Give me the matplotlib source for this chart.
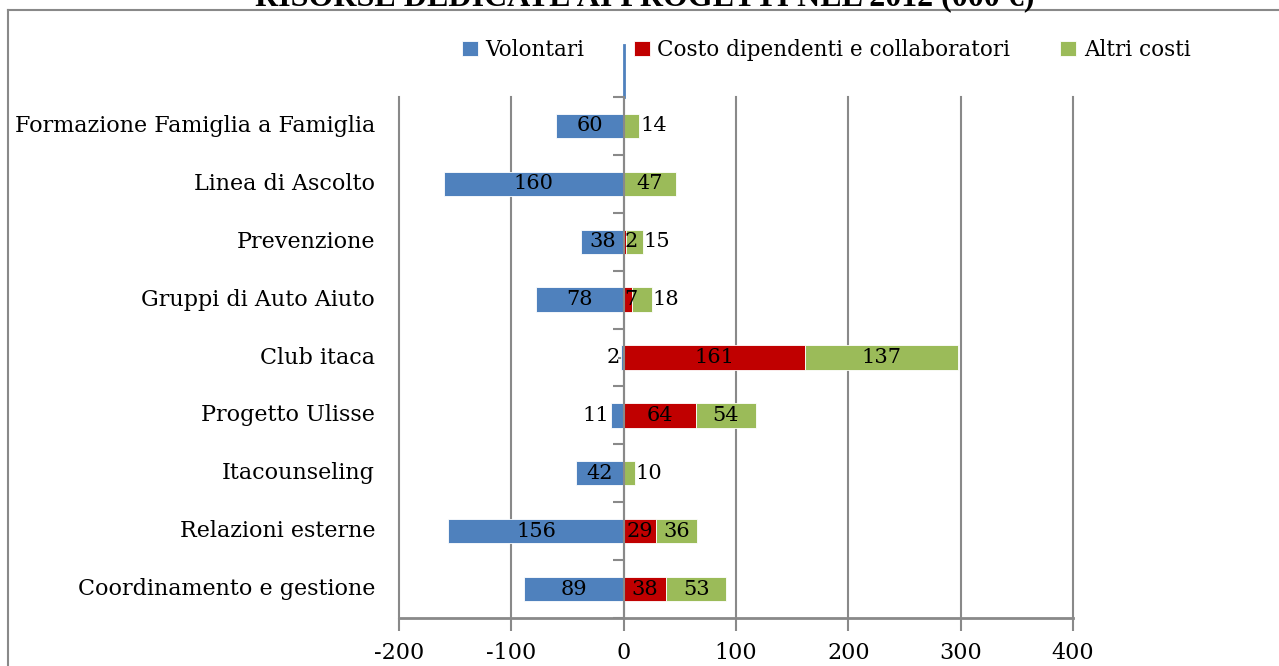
import matplotlib.pyplot as plt
from matplotlib.lines import Line2D
from matplotlib.transforms import blended_transform_factory
import numpy as np

categorie = ['Formazione Famiglia a Famiglia', 'Linea di Ascolto', 'Prevenzione',
             'Gruppi di Auto Aiuto', 'Club itaca', 'Progetto Ulisse',
             'Itacounseling', 'Relazioni esterne', 'Coordinamento e gestione']
volontari = [60, 160, 38, 78, 2, 11, 42, 156, 89]
dipendenti = [0, 0, 2, 7, 161, 64, 0, 29, 38]
altri = [14, 47, 15, 18, 137, 54, 10, 36, 53]
serie = ['Volontari', 'Costo dipendenti e collaboratori', 'Altri costi']
tick_x = [-200, -100, 0, 100, 200, 300, 400]

col_v = '#4F81BD'
col_d = '#C00000'
col_a = '#9BBB59'
grigio = '#898989'
font = 'DejaVu Serif'

plt.rcParams['font.family'] = font

fig = plt.figure(figsize=(12.79, 6.66), dpi=100)
ax = fig.add_axes([399/1279, 1 - 618/666, 674/1279, 521/666])

n = len(categorie)
y = np.arange(n)[::-1]  # prima categoria in alto
h = 0.42

v = -np.array(volontari)
d = np.array(dipendenti)
a = np.array(altri)

ax.barh(y, v, height=h, color=col_v, edgecolor='white', linewidth=0.6, label=serie[0], zorder=3)
ax.barh(y, d, height=h, color=col_d, edgecolor='white', linewidth=0.6, label=serie[1], zorder=3)
ax.barh(y, a, left=d, height=h, color=col_a, edgecolor='white', linewidth=0.6, label=serie[2], zorder=3)

fs_lab = 15
for i in range(n):
    # volontari
    if volontari[i] >= 20:
        ax.text(v[i] / 2, y[i], str(volontari[i]), ha='center', va='center', fontsize=fs_lab, zorder=5)
    else:
        ax.text(v[i] - 1.5, y[i], str(volontari[i]), ha='right', va='center', fontsize=fs_lab, zorder=5)
    # dipendenti
    if dipendenti[i] > 0:
        if dipendenti[i] >= 20:
            ax.text(d[i] / 2, y[i], str(dipendenti[i]), ha='center', va='center', fontsize=fs_lab, zorder=5)
        else:
            ax.text(0.5, y[i], str(dipendenti[i]), ha='left', va='center', fontsize=fs_lab, zorder=5)
    # altri costi
    if altri[i] >= 20:
        ax.text(d[i] + a[i] / 2, y[i], str(altri[i]), ha='center', va='center', fontsize=fs_lab, zorder=5)
    else:
        ax.text(d[i] + a[i] + 0.5, y[i], str(altri[i]), ha='left', va='center', fontsize=fs_lab, zorder=5)

ax.set_xlim(-200, 400)
ax.set_ylim(-0.5, n - 0.5)
ax.set_xticks(tick_x)
ax.set_xticklabels([str(t) for t in tick_x], fontsize=16)
ax.tick_params(axis='x', length=9, width=1.5, color=grigio, pad=8)
ax.grid(axis='x', color=grigio, linewidth=1.5, zorder=0)
for g in ax.get_xgridlines():
    g.set_clip_on(False)

# asse verticale sullo zero
for s in ['top', 'right']:
    ax.spines[s].set_visible(False)
ax.spines['left'].set_position(('data', 0))
ax.spines['left'].set_color(grigio)
ax.spines['left'].set_linewidth(1.5)
ax.spines['left'].set_zorder(4)
ax.spines['bottom'].set_color(grigio)
ax.spines['bottom'].set_linewidth(2)
ax.set_yticks(np.arange(n + 1) - 0.5)
ax.set_yticklabels([])
ax.set_yticks(y, minor=True)
ax.tick_params(axis='y', which='major', length=8, width=1.5, color=grigio)
ax.tick_params(axis='y', which='minor', length=4, width=1.5, color=grigio)

# etichette delle categorie a sinistra
tr = blended_transform_factory(ax.transAxes, ax.transData)
for i, c in enumerate(categorie):
    ax.text(-24/674, y[i], c, transform=tr, ha='right', va='center', fontsize=16)

# linea blu sopra l'asse
tr2 = blended_transform_factory(ax.transData, ax.transAxes)
ax.add_line(Line2D([0, 0], [1.0, 1.1], transform=tr2, color=col_v, linewidth=2, clip_on=False))

fig.legend(loc='center', bbox_to_anchor=(826/1279, 1 - 50/666), ncol=3, frameon=False,
           fontsize=15.5, handlelength=0.75, handleheight=0.75, handletextpad=0.35,
           columnspacing=2.3)

fig.text(645/1279, 1 - 5/666, 'RISORSE DEDICATE AI PROGETTI NEL 2012 (000 €)',
         ha='center', va='baseline', fontsize=23, fontweight='bold',
         family=['Liberation Serif', 'DejaVu Serif'])

# cornice del grafico
fig.add_artist(Line2D([8/1279, 8/1279], [0, 1 - 10/666], color=grigio, linewidth=1.5))
fig.add_artist(Line2D([8/1279, 1], [1 - 10/666, 1 - 10/666], color=grigio, linewidth=1.5))

fig.savefig('out.png', dpi=100)
